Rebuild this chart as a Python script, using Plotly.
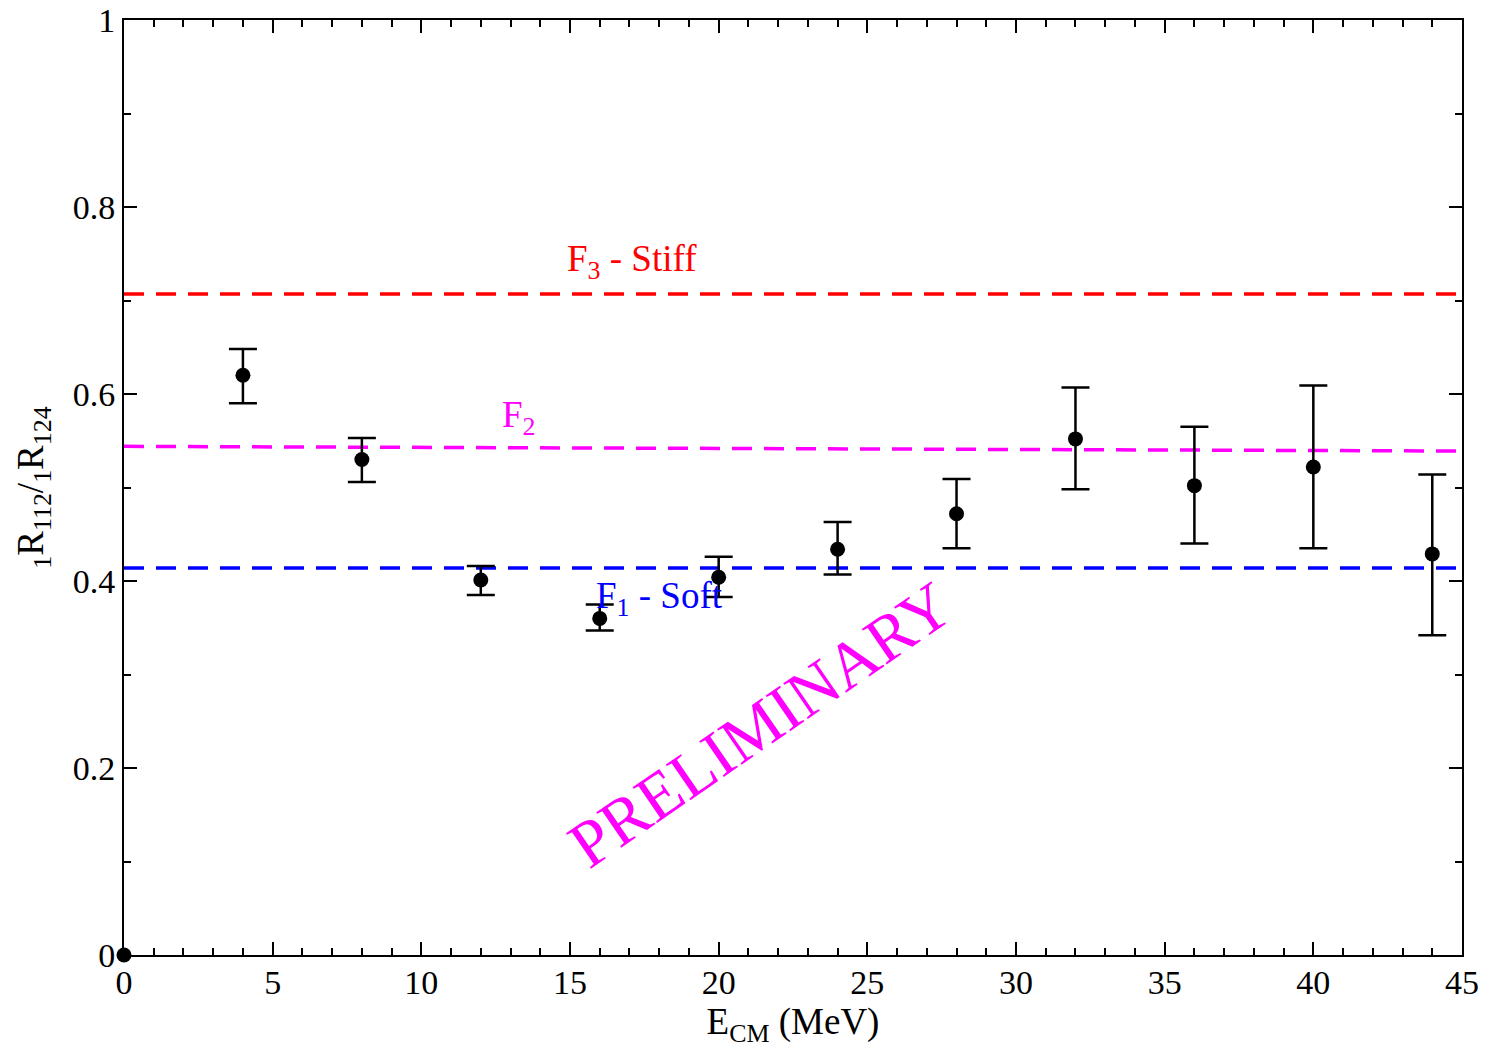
import plotly.graph_objects as go

# Data
energy = [4, 8, 12, 16, 20, 24, 28, 32, 36, 40, 44]
ratio = [0.620, 0.530, 0.401, 0.360, 0.404, 0.434, 0.472, 0.552, 0.502, 0.522, 0.429]
err_hi = [0.648, 0.553, 0.416, 0.375, 0.426, 0.463, 0.509, 0.607, 0.565, 0.609, 0.514]
err_lo = [0.590, 0.506, 0.385, 0.347, 0.383, 0.407, 0.435, 0.498, 0.440, 0.435, 0.342]
origin_x = [0]
origin_y = [0]

line_x = [0, 45]
f3_stiff = [0.707, 0.707]
f2 = [0.544, 0.539]
f1_soft = [0.414, 0.414]

err_plus = [h - v for h, v in zip(err_hi, ratio)]
err_minus = [v - l for v, l in zip(ratio, err_lo)]

FONT = "Liberation Serif"

fig = go.Figure()

dash = "20px,12px"
fig.add_trace(go.Scatter(x=line_x, y=f3_stiff, mode="lines",
                         line=dict(color="#ff0000", width=3.5, dash=dash), showlegend=False))
fig.add_trace(go.Scatter(x=line_x, y=f2, mode="lines",
                         line=dict(color="#ff00ff", width=3.5, dash=dash), showlegend=False))
fig.add_trace(go.Scatter(x=line_x, y=f1_soft, mode="lines",
                         line=dict(color="#0000ff", width=3.5, dash=dash), showlegend=False))

fig.add_trace(go.Scatter(
    x=energy, y=ratio, mode="markers",
    marker=dict(color="black", size=15),
    error_y=dict(type="data", symmetric=False, array=err_plus, arrayminus=err_minus,
                 color="black", thickness=2.5, width=14),
    showlegend=False))

fig.add_trace(go.Scatter(x=origin_x, y=origin_y, mode="markers",
                         marker=dict(color="black", size=15), cliponaxis=False,
                         showlegend=False))

fig.add_annotation(x=17.1, y=0.742, text="F<sub>3</sub> - Stiff", showarrow=False,
                   font=dict(family=FONT, size=37, color="#ff0000"))
fig.add_annotation(x=13.3, y=0.575, text="F<sub>2</sub>", showarrow=False,
                   font=dict(family=FONT, size=37, color="#ff00ff"))
fig.add_annotation(x=18.0, y=0.381, text="F<sub>1</sub> - Soft", showarrow=False,
                   font=dict(family=FONT, size=37, color="#0000ff"))
fig.add_annotation(x=21.4, y=0.246, text="PRELIMINARY", showarrow=False, textangle=-34.6,
                   font=dict(family=FONT, size=66, color="#ff00ff"))

axis_common = dict(
    showgrid=False, zeroline=False, showline=True, linecolor="black", linewidth=2,
    mirror="allticks", ticks="inside", ticklen=13, tickwidth=2, tickcolor="black",
    tickfont=dict(family=FONT, size=34, color="black"), automargin=False,
)

fig.update_xaxes(range=[0, 45], dtick=5, tick0=0, ticklabelstandoff=-4,
                 minor=dict(ticks="inside", ticklen=7, dtick=1, tickwidth=2, tickcolor="black"),
                 title=dict(text="E<sub>CM</sub> (MeV)", font=dict(family=FONT, size=37, color="black"),
                            standoff=2),
                 **axis_common)
fig.update_yaxes(range=[0, 1], dtick=0.2, tick0=0,
                 minor=dict(ticks="inside", ticklen=7, dtick=0.1, tickwidth=2, tickcolor="black"),
                 title=dict(text="<sub>1</sub>R<sub>112</sub>/<sub>1</sub>R<sub>124</sub>",
                            font=dict(family=FONT, size=37, color="black"), standoff=18),
                 **axis_common)

fig.update_layout(
    width=1500, height=1055,
    margin=dict(l=124, r=38, t=20, b=100),
    paper_bgcolor="white", plot_bgcolor="white",
    font=dict(family=FONT),
)

fig.write_html("out.html")
